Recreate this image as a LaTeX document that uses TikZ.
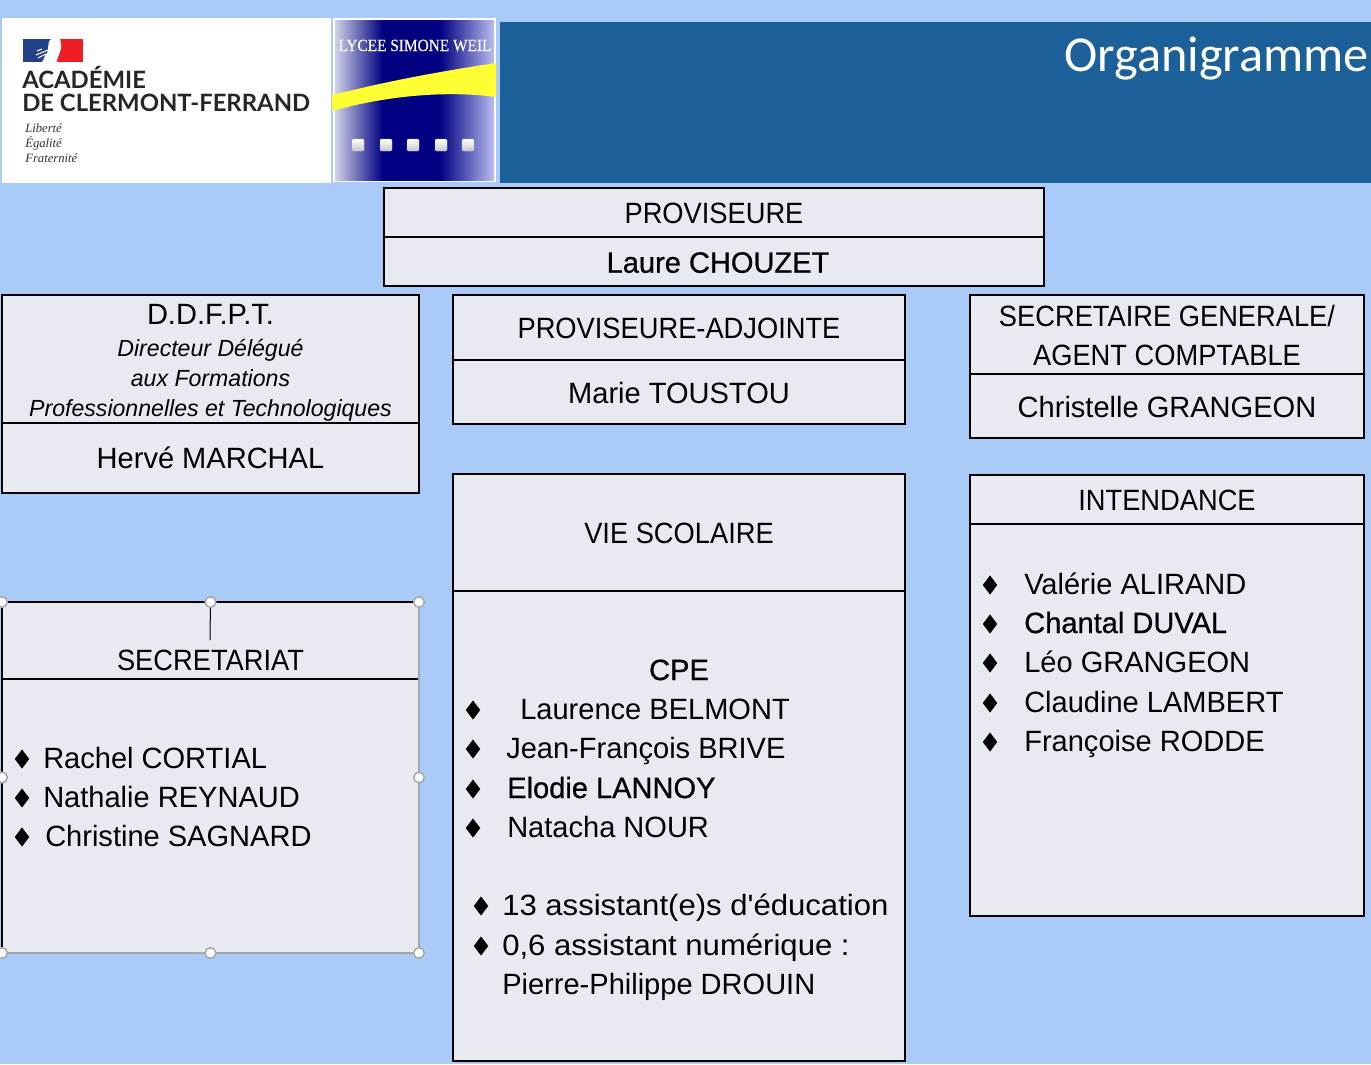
\documentclass[tikz,border=0pt]{standalone}
\usepackage{fontspec}
\usepackage{xcolor}
\setmainfont[FakeStretch=0.99]{Liberation Sans}
\newfontfamily\capsfont[FakeStretch=0.93]{Liberation Sans}
\newfontfamily\largefont[FakeStretch=1.06]{Liberation Sans}
\newfontfamily\grasfont[FakeStretch=0.99,FakeBold=0.7]{Liberation Sans}
\newfontfamily\titrefont{Carlito}
\newfontfamily\academiefont{Lato}
\newfontfamily\devisefont{Liberation Serif}
\newfontfamily\lyceefont[FakeStretch=0.9,FakeBold=0.3]{Liberation Serif}
\usetikzlibrary{positioning,shapes.geometric,fit}
\definecolor{fondbleu}{HTML}{AACBF8}
\definecolor{bandeau}{HTML}{1B6098}
\definecolor{caisse}{HTML}{E8EAF2}
\definecolor{marine}{HTML}{000080}
\definecolor{pale}{HTML}{B8BCF0}
\definecolor{clair}{HTML}{D0D3E8}
\definecolor{drapeaubleu}{HTML}{23408A}
\definecolor{drapeaurouge}{HTML}{EE1C25}
\definecolor{jaune}{HTML}{FFFF33}
\pgfdeclarehorizontalshading{fondlycee}{100bp}{color(0bp)=(clair);color(25bp)=(clair);color(40bp)=(marine);color(58bp)=(marine);color(75bp)=(pale);color(100bp)=(pale)}

\begin{document}
\begin{tikzpicture}[x=0.75pt, y=-0.75pt, every node/.style={align=center}]
\tikzset{
  cell/.style={draw=black, fill=caisse, line width=1.5pt, inner sep=0pt, outer sep=0pt, text=black, font=\capsfont\fontsize{22}{29}\selectfont},
  cellun/.style={cell, text height=17pt},
  cellprov/.style={cellun, minimum width=495pt},
  cellddfpt/.style={cell, minimum width=312.75pt},
  cellmid/.style={cellun, minimum width=339pt},
  cellright/.style={cell, minimum width=295.5pt},
  item/.style={anchor=base west, inner sep=0pt, font=\fontsize{22}{29}\selectfont},
  puce/.style={diamond, fill=black, inner sep=0pt, minimum width=11pt, minimum height=14.5pt},
  poignee/.style={circle, draw=gray!70, fill=white, line width=1.1pt, inner sep=0pt, minimum size=8pt},
  carre/.style={rounded corners=1pt, top color=white, bottom color=gray!45, draw=gray!40, line width=0.3pt},
  academie/.style={anchor=base west, inner sep=0pt, text=black!85, font=\academiefont\bfseries\fontsize{17.9}{20}\selectfont},
  devise/.style={anchor=base west, inner sep=0pt, text=black!80, font=\devisefont\itshape\fontsize{9.5}{11}\selectfont}
}
\useasboundingbox[fill=fondbleu] (0,0) rectangle (1371,1064);

% bandeau du haut
\fill[bandeau] (500,22) rectangle (1371,183);
\node[anchor=base east, inner sep=0pt, text=white, font=\titrefont\fontsize{37.7}{40}\selectfont] (titre) at (1369,71) {Organigramme};

% logo academie
\fill[white] (2,18) rectangle (331,183);
\fill[drapeaubleu] (23,39) rectangle (51,62);
\fill[drapeaurouge] (57,39) rectangle (83,62);
\fill[white] (51,39) .. controls (46,44) and (50,49) .. (47,53) .. controls (44,56) and (44,60) .. (42,62) -- (57,62) .. controls (56,58) and (64,50) .. (60,39) -- cycle;
\draw[white, line width=0.8pt] (36,55) -- (48,50) (38,58) -- (46,54) (37,51) -- (42,49);
\node[academie] (academie) at (22,88) {ACADÉMIE};
\node[academie] (clermont) at (22,111) {DE CLERMONT-FERRAND};
\node[devise] (liberte) at (25,132) {Liberté};
\node[devise] (egalite) at (25,147) {Égalité};
\node[devise] (fraternite) at (25,162) {Fraternité};

% logo lycee
\fill[white] (333,18) rectangle (496,182);
\shade[shading=fondlycee] (335,20) rectangle (494,180);
\fill[jaune] (332,95) .. controls (370,86) and (410,76) .. (496,63) -- (496,97) .. controls (460,92) and (400,92) .. (332,111) -- cycle;
\node[anchor=base, inner sep=0pt, text=white, font=\lyceefont\fontsize{12.8}{14}\selectfont] (lycee) at (415,51) {LYCEE SIMONE WEIL};
\foreach \x in {358,386,413,441,468} {
  \draw[carre] (\x-6,139) rectangle (\x+6,151);
}

% proviseure
\node[cellprov, minimum height=36.75pt, anchor=north west] (provTitre) at (384,188) {PROVISEURE};
\node[cellprov, minimum height=36.75pt, below=0pt of provTitre] (provNom) {\grasfont\hspace{6pt}Laure CHOUZET};

% colonne gauche
\node[cellddfpt, minimum height=96pt, anchor=north west] (ddfptTitre) at (2,295) {};
\node[below=7pt of ddfptTitre.north, inner sep=0pt, font=\fontsize{22}{22.5}\selectfont] (ddfptTexte) {D.D.F.P.T.\\[1pt]
  \fontsize{17.5}{21}\selectfont\itshape Directeur Délégué\\
  \fontsize{17.5}{21}\selectfont\itshape aux Formations\\
  \fontsize{17.5}{21}\selectfont\itshape Professionnelles et Technologiques};
\node[cellddfpt, minimum height=52.5pt, below=0pt of ddfptTitre, font=\fontsize{22}{29}\selectfont] (ddfptNom) {Hervé MARCHAL};

\node[cellddfpt, minimum height=57.75pt, anchor=north west] (secTitre) at (2,602) {};
\node[cellddfpt, minimum height=205.5pt, below=0pt of secTitre] (secListe) {};
\node[above=6pt of secTitre.south, inner sep=0pt, font=\capsfont\fontsize{22}{29}\selectfont] (secNom) {SECRETARIAT};
\foreach \y/\tx/\nom [count=\i] in {768/43/Rachel CORTIAL, 807/43/Nathalie REYNAUD, 846/45/Christine SAGNARD} {
  \node[item] (sec\i) at (\tx,\y) {\nom};
  \node[puce] (secp\i) at (22,\y-9) {};
}

% colonne du milieu
\node[cellmid, minimum height=48.75pt, anchor=north west] (adjTitre) at (453,295) {PROVISEURE-ADJOINTE};
\node[cellmid, minimum height=48pt, below=0pt of adjTitre, font=\fontsize{22}{29}\selectfont] (adjNom) {Marie TOUSTOU};
\node[cellmid, minimum height=87.75pt, anchor=north west] (vieTitre) at (453,474) {VIE SCOLAIRE};
\node[cellmid, minimum height=352.5pt, below=0pt of vieTitre] (vieListe) {};
\node[item, anchor=base] (cpe) at (679,680) {\grasfont CPE};
\foreach \y/\tx/\nom [count=\i] in {719/520/Laurence BELMONT, 758/506/Jean-François BRIVE, 798/507/{\grasfont Elodie LANNOY}, 837/507/Natacha NOUR} {
  \node[item] (vie\i) at (\tx,\y) {\nom};
  \node[puce] (viep\i) at (473,\y-9) {};
}
\node[item, font=\largefont\fontsize{22}{29}\selectfont] (assist) at (502,915) {13 assistant(e)s d'éducation};
\node[puce] (assistp) at (481,906) {};
\node[item, font=\largefont\fontsize{22}{29}\selectfont] (numerique) at (502,955) {0,6 assistant numérique :};
\node[puce] (numeriquep) at (481,946) {};
\node[item] (drouin) at (502,994) {Pierre-Philippe DROUIN};

% colonne de droite
\node[cellright, minimum height=59.25pt, anchor=north west] (sgTitre) at (970,295) {};
\node[below=7.5pt of sgTitre.north, inner sep=0pt, font=\capsfont\fontsize{22}{29}\selectfont] (sgTexte) {SECRETAIRE GENERALE/\\AGENT COMPTABLE};
\node[cellright, cellun, minimum height=48pt, below=0pt of sgTitre, font=\fontsize{22}{29}\selectfont] (sgNom) {Christelle GRANGEON};
\node[cellright, cellun, minimum height=36.75pt, anchor=north west] (intTitre) at (970,475) {INTENDANCE};
\node[cellright, minimum height=294pt, below=0pt of intTitre] (intListe) {};
\foreach \y/\nom [count=\i] in {594/Valérie ALIRAND, 633/{\grasfont Chantal DUVAL}, 672/Léo GRANGEON, 712/Claudine LAMBERT, 751/Françoise RODDE} {
  \node[item] (int\i) at (1024,\y) {\nom};
  \node[puce] (intp\i) at (990,\y-9) {};
}

% cadre de selection
\node[fit=(secTitre)(secListe), inner sep=0pt, outer sep=0pt] (selection) {};
\draw[gray!70, line width=0.9pt] (selection.north east) -- (selection.south east) -- (selection.south west);
\coordinate (tige) at (210,640);
\draw[line width=0.75pt] (selection.north) -- (tige);
\foreach \ancre in {north west,north,north east,west,east,south west,south,south east} {
  \node[poignee] at (selection.\ancre) {};
}
\end{tikzpicture}
\end{document}
